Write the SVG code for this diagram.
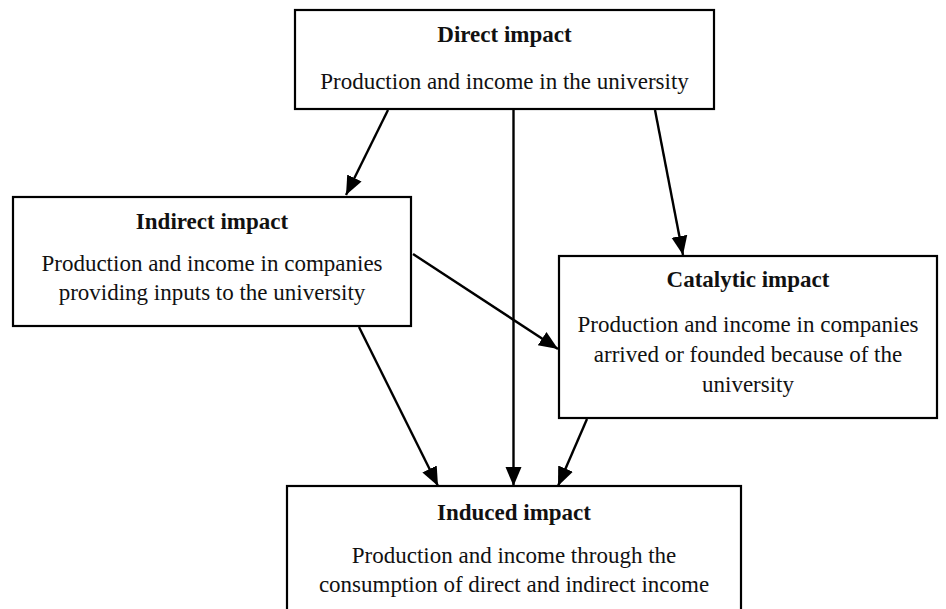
<svg xmlns="http://www.w3.org/2000/svg" width="946" height="609" viewBox="0 0 946 609">
<style>
.box{fill:#fff;stroke:#000;stroke-width:2.2}
.t{font-weight:bold;font-size:23px;text-anchor:middle;fill:#111}
.b{font-size:23px;text-anchor:middle;fill:#111}
.c{stroke:#000;stroke-width:2.4;fill:none;marker-end:url(#ah)}
</style>
<defs>
<marker id="ah" markerUnits="userSpaceOnUse" markerWidth="22" markerHeight="20" refX="19" refY="10" orient="auto">
<path d="M0,2 L19,10 L0,18 Z" fill="#000"/>
</marker>
</defs>
<rect width="946" height="609" fill="#fff"/>
<g font-family="Liberation Serif, DejaVu Serif, serif">
<g id="direct">
<rect class="box" x="295" y="10" width="419" height="99"/>
<text class="t" x="504.5" y="42">Direct impact</text>
<text class="b" x="504.5" y="89">Production and income in the university</text>
</g>
<g id="indirect">
<rect class="box" x="13" y="197" width="398" height="129"/>
<text class="t" x="212" y="229">Indirect impact</text>
<text class="b" x="212" y="271">Production and income in companies</text>
<text class="b" x="212" y="300">providing inputs to the university</text>
</g>
<g id="catalytic">
<rect class="box" x="559" y="256" width="378" height="162"/>
<text class="t" x="748" y="287">Catalytic impact</text>
<text class="b" x="748" y="332">Production and income in companies</text>
<text class="b" x="748" y="362">arrived or founded because of the</text>
<text class="b" x="748" y="392">university</text>
</g>
<g id="induced">
<rect class="box" x="287" y="486" width="454" height="140"/>
<text class="t" x="514" y="520">Induced impact</text>
<text class="b" x="514" y="563">Production and income through the</text>
<text class="b" x="514" y="592">consumption of direct and indirect income</text>
</g>
</g>
<g id="connectors">
<line class="c" x1="388" y1="110" x2="346" y2="195"/>
<line class="c" x1="513.5" y1="110" x2="513.5" y2="486"/>
<line class="c" x1="655" y1="110" x2="683" y2="255"/>
<line class="c" x1="413" y1="254" x2="558" y2="349"/>
<line class="c" x1="359" y1="327" x2="438" y2="486"/>
<line class="c" x1="587" y1="419" x2="558" y2="486"/>
</g>
</svg>
